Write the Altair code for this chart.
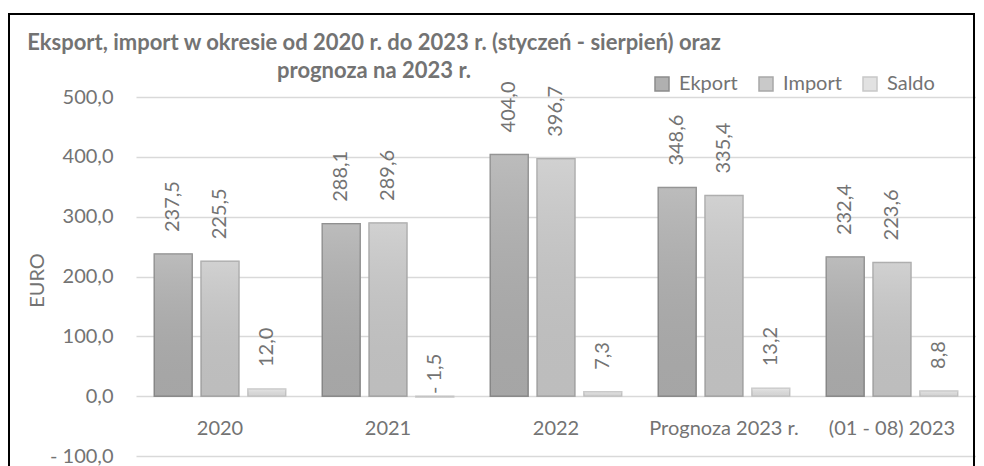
import altair as alt
import pandas as pd

categories = ["2020", "2021", "2022", "Prognoza 2023 r.", "(01 - 08) 2023"]
series = ["Ekport", "Import", "Saldo"]
eksport = [237.5, 288.1, 404.0, 348.6, 232.4]
import_vals = [225.5, 289.6, 396.7, 335.4, 223.6]
saldo = [12.0, -1.5, 7.3, 13.2, 8.8]
y_ticks = [-100, 0, 100, 200, 300, 400, 500]
title_lines = [
    "Eksport, import w okresie od 2020 r. do 2023 r. (styczeń - sierpień) oraz",
    "prognoza na 2023 r.",
]

rows = []
for i, c in enumerate(categories):
    for s, vals in zip(series, [eksport, import_vals, saldo]):
        rows.append({"kat": c, "seria": s, "v": vals[i]})
df = pd.DataFrame(rows)

fill_colors = ["#b0b0b0", "#c9c9c9", "#e2e2e2"]
stroke_colors = ["#8c8c8c", "#a8a8a8", "#c8c8c8"]
TXT = "#737373"
FONT = "Lato"

fmt_expr = "(datum.value < 0 ? '- ' : '') + replace(format(abs(datum.value), '.1f'), '.', ',')"

x_enc = alt.X(
    "kat:N", sort=categories,
    scale=alt.Scale(domain=categories, paddingInner=0, paddingOuter=0),
    axis=alt.Axis(title=None, labelAngle=0, labelPadding=-28, labelBaseline="middle",
                  domain=False, ticks=False, grid=False, labelFontSize=20,
                  labelColor=TXT, labelFont=FONT, labelLimit=0, labelOverlap=False),
)
xo_enc = alt.XOffset(
    "seria:N", sort=series,
    scale=alt.Scale(domain=series, paddingInner=0.19, paddingOuter=0.39),
)
y_scale = alt.Scale(domain=[-100, 500], nice=False, zero=False)
y_axis = alt.Axis(
    values=y_ticks, labelExpr=fmt_expr, grid=True, gridColor="#d9d9d9", gridWidth=1.5,
    domain=False, ticks=False, labelPadding=23, labelFontSize=20, labelColor=TXT,
    labelFont=FONT, title="EURO", titleX=-99, titleY=183, titleAngle=270,
    titleAlign="center", titleBaseline="middle", titleFontWeight="normal",
    titleFontSize=20, titleColor=TXT, titleFont=FONT,
)

legend = alt.Legend(
    title=None, orient="none", legendX=516, legendY=-23, direction="horizontal",
    symbolType="square", symbolSize=196, symbolStrokeWidth=1.5, labelFontSize=20,
    labelColor=TXT, labelFont=FONT, labelOffset=7, columnPadding=18,
)

bars = alt.Chart(df).mark_bar(strokeWidth=1.5).encode(
    x=x_enc, xOffset=xo_enc,
    y=alt.Y("v:Q", scale=y_scale, axis=y_axis),
    color=alt.Color("seria:N", sort=series,
                    scale=alt.Scale(domain=series, range=fill_colors), legend=legend),
    stroke=alt.Stroke("seria:N", sort=series,
                      scale=alt.Scale(domain=series, range=stroke_colors), legend=legend),
)

shade = alt.Chart(df).mark_bar(
    strokeWidth=0,
    fill=alt.Gradient(
        gradient="linear", x1=0, x2=0, y1=0, y2=1,
        stops=[alt.GradientStop(color="rgba(255,255,255,0.15)", offset=0),
               alt.GradientStop(color="rgba(0,0,0,0.06)", offset=1)],
    ),
).encode(x=x_enc, xOffset=xo_enc, y=alt.Y("v:Q", scale=y_scale))

label_calc = "(datum.v < 0 ? '- ' : '') + replace(format(abs(datum.v), '.1f'), '.', ',')"

labels_pos = alt.Chart(df).transform_filter("datum.v >= 0").transform_calculate(
    lab=label_calc
).mark_text(angle=270, align="left", baseline="middle", dx=22, fontSize=20,
            color=TXT, font=FONT).encode(
    x=x_enc, xOffset=xo_enc, y=alt.Y("v:Q", scale=y_scale), text="lab:N")

labels_neg = alt.Chart(df).transform_filter("datum.v < 0").transform_calculate(
    lab=label_calc
).mark_text(angle=270, align="left", baseline="middle", dx=3, fontSize=20,
            color=TXT, font=FONT).encode(
    x=x_enc, xOffset=xo_enc, y=alt.Y("v:Q", scale=y_scale), text="lab:N")

frame = alt.Chart(alt.Data(values=[{"a": 1}])).mark_rect(
    fillOpacity=0, stroke="#000000", strokeWidth=2
).encode(x=alt.value(-127), x2=alt.value(838), y=alt.value(-83), y2=alt.value(420))

chart = alt.layer(frame, bars, shade, labels_pos, labels_neg).properties(
    width=840, height=359,
    autosize=alt.AutoSizeParams(type="none"),
    padding={"left": 128, "top": 89, "right": 0, "bottom": 10},
    title=alt.TitleParams(
        text=title_lines, fontSize=22, fontWeight="bold", color=TXT, font=FONT,
        anchor="middle", frame="group", dx=-182, offset=-92, lineHeight=28,
        baseline="bottom",
    ),
).configure_view(stroke=None)

chart.save("out.html", embed_options={"renderer": "svg", "actions": False})
